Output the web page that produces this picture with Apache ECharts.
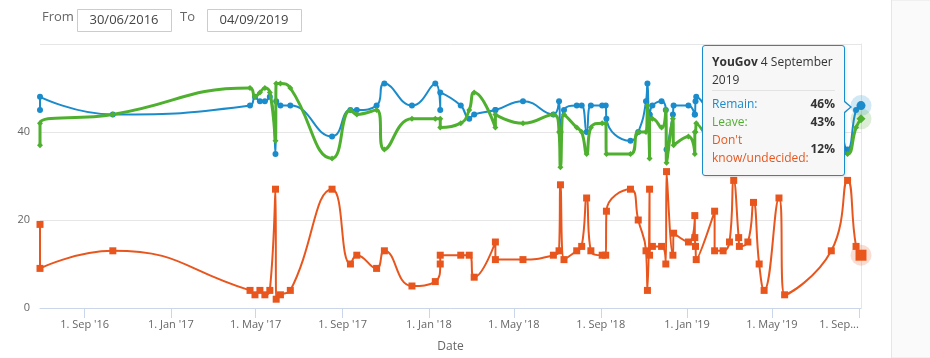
<!DOCTYPE html>
<html><head><meta charset="utf-8">
<script src="https://cdn.jsdelivr.net/npm/echarts@6/dist/echarts.min.js"></script>
<style>html,body{margin:0;padding:0;background:#fff}#c{width:930px;height:358px}</style>
</head><body><div id="c"></div><script>
// ---- data ----
const pollster = 'YouGov';
const dates = [
'2016-06-30','2016-06-30','2016-10-11',
'2017-04-23','2017-04-30','2017-05-07','2017-05-14','2017-05-21','2017-05-29','2017-05-30','2017-06-05','2017-06-19',
'2017-08-17','2017-09-12','2017-09-21','2017-10-19','2017-10-30','2017-12-08',
'2018-01-10','2018-01-17','2018-01-17','2018-02-15','2018-02-27','2018-03-06','2018-04-05','2018-04-05',
'2018-05-14','2018-06-26','2018-07-04','2018-07-06','2018-07-11','2018-07-29','2018-08-05','2018-08-12','2018-08-18',
'2018-09-03','2018-09-08','2018-09-09',
'2018-10-13','2018-10-24','2018-11-04','2018-11-06','2018-11-09','2018-11-09','2018-11-13','2018-11-26',
'2018-12-02','2018-12-03','2018-12-12','2018-12-13',
'2019-01-03','2019-01-12','2019-01-12','2019-01-13','2019-01-14',
'2019-02-09','2019-02-09','2019-02-21','2019-03-02','2019-03-08','2019-03-15','2019-03-16','2019-03-28',
'2019-04-05','2019-04-13','2019-04-20','2019-05-11','2019-05-19','2019-07-24','2019-08-16','2019-08-28','2019-09-04'
];
const remain = [45,48,44, 46,48,47,47,48,35,47,46,46, 39,45,45,46,51,46, 51,45,49,46,43,44,45,45,
47,44,47,40,45,46,46,40,46, 46,46,43, 38,40,47,51,44,44,46,47, 45,36,44,46, 46,44,44,47,48,
42,47,46,46,37,45,47,46, 40,48,50,40,50,46,36,45,46];
const leave = [37,42,44, 50,48,49,50,49,38,51,51,50, 34,45,44,45,36,43, 43,43,41,42,45,49,41,44,
42,44,40,32,44,41,40,35,41, 42,42,35, 35,40,40,46,34,43,43,41, 45,33,43,37, 39,35,40,40,42,
36,40,41,39,34,39,39,39, 36,42,46,35,47,41,35,41,43];
const dontKnow = [19,9,13, 4,3,4,3,4,27,2,3,4, 27,10,12,9,13,5, 6,10,12,12,12,7,15,11,
11,12,13,28,11,13,14,25,13, 12,12,22, 27,20,13,4,27,12,14,14, 10,31,12,17, 15,21,16,14,11,
22,13,13,15,29,16,14,15, 24,10,4,25,3,13,29,14,12];
const tickDates = ['2016-09-01','2017-01-01','2017-05-01','2017-09-01','2018-01-01','2018-05-01','2018-09-01','2019-01-01','2019-05-01','2019-09-01'];
const tickLabels = ["1. Sep '16","1. Jan '17","1. May '17","1. Sep '17","1. Jan '18","1. May '18","1. Sep '18","1. Jan '19","1. May '19","1. Sep..."];
const yTicks = [0,20,40,60];
const yLabels = ['0','20','40',''];
const rangeFrom = '30/06/2016', rangeTo = '04/09/2019';
const names = ['Remain','Leave',"Don't know/undecided"];
const colors = ['#1a8bcb','#4fb030','#e8561e'];

// ---- build ----
const ts = dates.map(d => Date.parse(d));
const tickTs = tickDates.map(d => Date.parse(d));
const last = dates.length - 1;
const pairs = arr => arr.map((v, i) => [ts[i], v]);
const sz = (n, b) => (val, p) => (p.dataIndex === last ? b : n);
const months = ['January','February','March','April','May','June','July','August','September','October','November','December'];
const ld = new Date(ts[last]);
const hdrDate = ld.getUTCDate() + ' ' + months[ld.getUTCMonth()];
const hdrYear = ld.getUTCFullYear();
const F = "'Open Sans','Noto Sans',sans-serif";

const tipHtml = () => {
  const row = (label, color, v) => '<tr><td style="color:' + color + ';padding:0;vertical-align:middle">' + label +
    '</td><td style="text-align:right;font-weight:bold;padding:0;vertical-align:middle;color:#333">' + v + '%</td></tr>';
  return '<div style="position:relative;width:123px;padding:7px 9px 8px 9px;font-family:' + F.replace(/'/g,'&quot;') + ';font-size:12px;line-height:18px;color:#333;white-space:normal">' +
    '<div><b>' + pollster + '</b> ' + hdrDate + '<br>' + hdrYear + '</div>' +
    '<div style="border-top:1px solid #e3e3e3;margin:1px 0 4px"></div>' +
    '<table style="border-collapse:collapse;width:100%;font-size:12px;line-height:18px;font-family:inherit">' +
    row(names[0] + ':', colors[0], remain[last]) +
    row(names[1] + ':', colors[1], leave[last]) +
    row("Don't<br>know/undecided:", colors[2], dontKnow[last]) +
    '</table>' +
    '<div style="position:absolute;right:-8px;top:55px;width:0;height:0;border-top:6px solid transparent;border-bottom:6px solid transparent;border-left:7px solid ' + colors[0] + '"></div>' +
    '<div style="position:absolute;right:-6px;top:56px;width:0;height:0;border-top:5px solid transparent;border-bottom:5px solid transparent;border-left:6px solid #f7f7f7"></div>' +
    '</div>';
};

const chart = echarts.init(document.getElementById('c'), null, {renderer: 'canvas'});
const lineSeries = (i, data, symbol, w, n, b) => ({
  name: names[i], type: 'line', data: pairs(data), smooth: 0.5,
  symbol: symbol, symbolSize: sz(n, b), showAllSymbol: true,
  lineStyle: {color: colors[i], width: w}, itemStyle: {color: colors[i]},
  z: 3 + i, emphasis: {disabled: true}
});

chart.setOption({
  animation: false,
  textStyle: {fontFamily: F},
  grid: {left: 40, right: 69, top: 44, bottom: 48, containLabel: false},
  xAxis: {
    type: 'value', min: ts[0], max: ts[last],
    name: 'Date', nameLocation: 'middle', nameGap: 33,
    nameTextStyle: {color: '#666', fontSize: 12, fontFamily: F},
    axisLine: {lineStyle: {color: '#ccd6eb'}},
    axisTick: {show: true, length: 10, lineStyle: {color: '#ccd6eb'}, customValues: tickTs},
    axisLabel: {color: '#666', fontSize: 11, margin: 11, fontFamily: F, customValues: tickTs,
      alignMaxLabel: 'right',
      formatter: v => { const k = tickTs.indexOf(v); return k >= 0 ? tickLabels[k] : ''; }},
    splitLine: {show: false}
  },
  yAxis: [{
    type: 'value', min: yTicks[0], max: yTicks[yTicks.length - 1], interval: 20,
    axisLine: {show: false}, axisTick: {show: false},
    axisLabel: {color: '#666', fontSize: 11, margin: 10, fontFamily: F,
      formatter: v => { const k = yTicks.indexOf(v); return k >= 0 ? yLabels[k] : ''; }},
    splitLine: {lineStyle: {color: '#e6e6e6'}}
  }, {
    type: 'value', min: 0, max: 60, position: 'right',
    axisLine: {show: true, lineStyle: {color: '#e6e6e6'}}, axisTick: {show: false},
    axisLabel: {show: false}, splitLine: {show: false}
  }],
  tooltip: {
    trigger: 'item', triggerOn: 'none', alwaysShowContent: true, transitionDuration: 0,
    padding: 0, borderWidth: 1, borderColor: colors[0], borderRadius: 3,
    backgroundColor: '#f7f7f7',
    extraCssText: 'box-shadow:1px 1px 3px rgba(0,0,0,0.12);',
    position: () => [702, 45],
    formatter: tipHtml
  },
  graphic: [
    {type: 'text', left: 42, top: 11, style: {text: 'From', fill: '#666', font: '13px ' + F}},
    {type: 'rect', shape: {x: 77.5, y: 9.5, width: 94, height: 22}, style: {fill: '#fff', stroke: '#cccccc', lineWidth: 1}},
    {type: 'text', x: 124, y: 20.5, style: {text: rangeFrom, fill: '#444', font: '13px ' + F, align: 'center', verticalAlign: 'middle'}},
    {type: 'text', left: 180, top: 11, style: {text: 'To', fill: '#666', font: '13px ' + F}},
    {type: 'rect', shape: {x: 207.5, y: 9.5, width: 94, height: 22}, style: {fill: '#fff', stroke: '#cccccc', lineWidth: 1}},
    {type: 'text', x: 254, y: 20.5, style: {text: rangeTo, fill: '#444', font: '13px ' + F, align: 'center', verticalAlign: 'middle'}},
    {type: 'rect', shape: {x: 891.5, y: 0, width: 40, height: 358}, style: {fill: '#fafafa', stroke: '#e6e6e6', lineWidth: 1}, silent: true}
  ],
  series: [
    {type: 'scatter', silent: true, z: 2, symbol: 'circle', symbolSize: 21,
     data: [
       {value: [ts[last], remain[last]], itemStyle: {color: 'rgba(26,139,203,0.25)'}},
       {value: [ts[last], leave[last]], itemStyle: {color: 'rgba(79,176,48,0.25)'}},
       {value: [ts[last], dontKnow[last]], itemStyle: {color: 'rgba(232,86,30,0.25)'}}
     ]},
    lineSeries(0, remain, 'circle', 2, 6, 9),
    lineSeries(1, leave, 'diamond', 3, 6, 9),
    lineSeries(2, dontKnow, 'rect', 2, 7, 11)
  ]
});
chart.dispatchAction({type: 'showTip', seriesIndex: 1, dataIndex: last});
</script></body></html>
